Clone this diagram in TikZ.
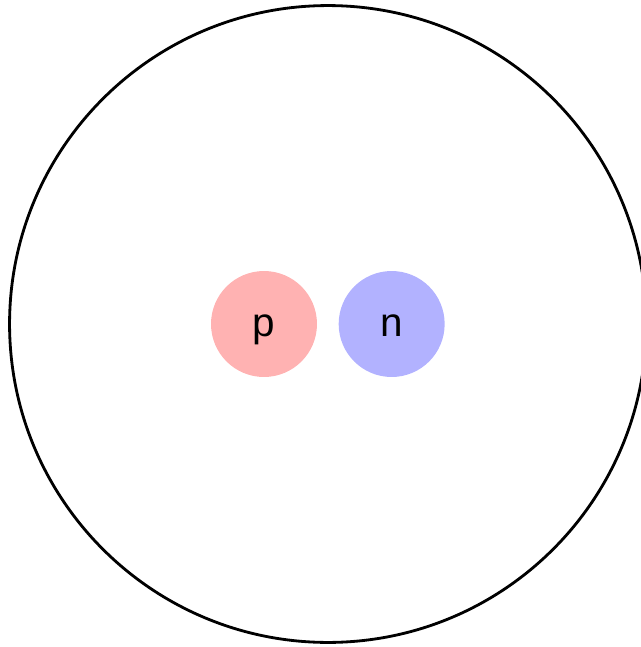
\documentclass[tikz,border=0pt]{standalone}
\usepackage{fontspec}
\setsansfont{Liberation Sans}
\usepackage{xcolor}
\usepackage{tikz}
\usetikzlibrary{positioning}
\definecolor{protoncolor}{HTML}{FFB2B2}
\definecolor{neutroncolor}{HTML}{B2B2FF}
\tikzset{
    nucleon/.style={
        circle, draw=none, fill=#1,
        minimum size=2.12cm, inner sep=0pt,
        text height=0.49cm, text depth=0cm,
        font=\fontsize{23}{27}\selectfont\sffamily
    },
    shell/.style={
        circle, draw=black, line width=1.6pt,
        minimum size=12.74cm, inner sep=0pt
    },
}
\begin{document}
\begin{tikzpicture}[x=0.02cm, y=0.02cm]

    % Page frame
    \useasboundingbox (-328,-323) rectangle (313,324);

    % Outer shell
    \node[shell] (atom) at (0,0) {};

    % Nucleus
    \node[nucleon=protoncolor] (proton) at (-64,0) {p};
    \node[nucleon=neutroncolor, right=0.42cm of proton] (neutron) {n};

\end{tikzpicture}
\end{document}
